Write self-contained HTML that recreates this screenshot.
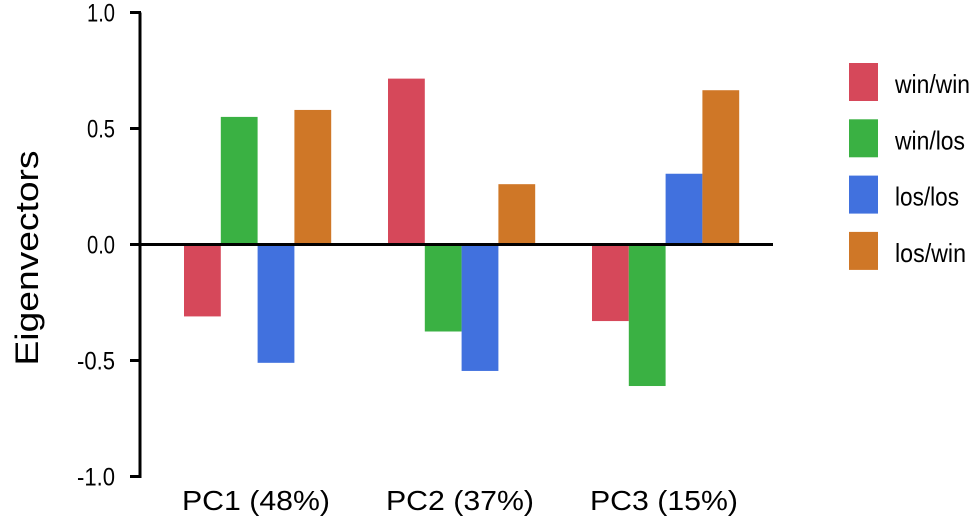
<!DOCTYPE html>
<html><head><meta charset="utf-8"><style>
html,body{margin:0;padding:0;background:#fff;}
svg{display:block;font-family:"Liberation Sans",Arial,sans-serif;}
</style></head><body>
<svg id="chart" width="978" height="526" viewBox="0 0 978 526">
<g id="bars"></g>
<g id="axes"></g>
<g id="legend"></g>
</svg>
<script>
const categories = ["PC1 (48%)", "PC2 (37%)", "PC3 (15%)"];
const seriesNames = ["win/win", "win/los", "los/los", "los/win"];
const winwin = [-0.31, 0.715, -0.33];
const winlos = [0.55, -0.375, -0.61];
const loslos = [-0.51, -0.545, 0.305];
const loswin = [0.58, 0.26, 0.665];
const yTicks = [1.0, 0.5, 0.0, -0.5, -1.0];
const yTickLabels = ["1.0", "0.5", "0.0", "-0.5", "-1.0"];

const colors = ["#d6485a", "#3ab143", "#4171de", "#cf7727"];
const series = [winwin, winlos, loslos, loswin];
const NS = "http://www.w3.org/2000/svg";
const y = v => 244.5 - v * 232;
const groupX = i => 184 + i * 204;
const barW = 36.8;
function mk(tag, attrs, parent){const e=document.createElementNS(NS,tag);for(const k in attrs)e.setAttribute(k,attrs[k]);parent.appendChild(e);return e;}
const bars=document.getElementById('bars'), axes=document.getElementById('axes'), legend=document.getElementById('legend');
categories.forEach((c,i)=>{
  series.forEach((s,j)=>{
    const v=s[i];
    const r=mk('rect',{x:groupX(i)+j*barW,y:Math.min(y(v),y(0)),width:barW,height:Math.abs(y(v)-y(0)),fill:colors[j]},bars);
    
    
  });
  const t=mk('text',{x:groupX(i)-2,y:510,'font-size':'28',fill:'#000',textLength:148,lengthAdjust:'spacingAndGlyphs'},axes);
  t.textContent=c;
  
  
});
const ax=mk('line',{x1:140,y1:y(1),x2:140,y2:y(-1)+1.5,stroke:'#000','stroke-width':3},axes);


const zl=mk('line',{x1:140,y1:y(0),x2:773,y2:y(0),stroke:'#000','stroke-width':3},axes);


yTicks.forEach((v,k)=>{
  const tk=mk('line',{x1:130,y1:y(v),x2:141,y2:y(v),stroke:'#000','stroke-width':3},axes);
  
  
  const lbl=yTickLabels[k];
  const w=lbl.length===3?28:38;
  const tl=mk('text',{x:115-w,y:y(v)+9,'font-size':'25',fill:'#000',textLength:w,lengthAdjust:'spacingAndGlyphs'},axes);
  tl.textContent=lbl;
  
  
});
const yt=mk('text',{x:0,y:0,transform:'translate(38,258) rotate(-90)','text-anchor':'middle','font-size':'32',fill:'#000',textLength:215,lengthAdjust:'spacingAndGlyphs'},axes);
yt.textContent='Eigenvectors';


const legendW=[75,70,64,71];
seriesNames.forEach((n,j)=>{
  const sw=mk('rect',{x:849,y:63+j*56.3,width:29,height:38,fill:colors[j]},legend);
  
  
  const lt=mk('text',{x:895,y:93+j*56.3,'font-size':'26',fill:'#000',textLength:legendW[j],lengthAdjust:'spacingAndGlyphs'},legend);
  lt.textContent=n;
  
  
});
</script>
</body></html>
